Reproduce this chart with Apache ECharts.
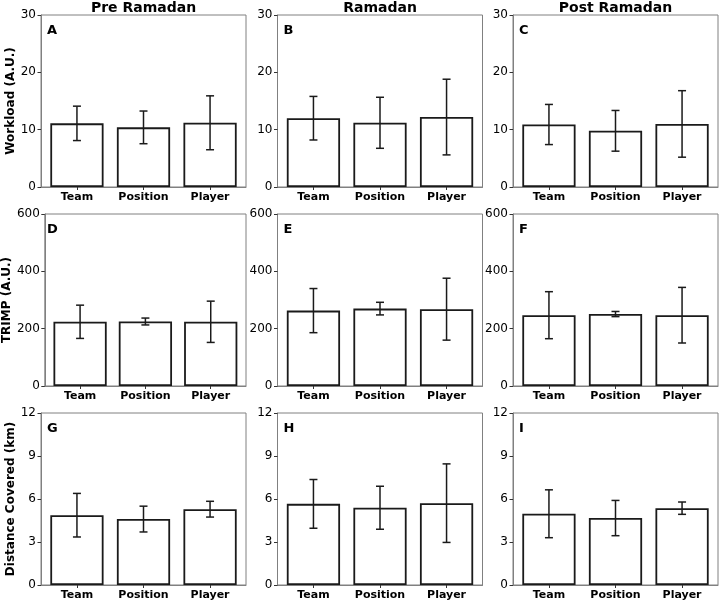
<!DOCTYPE html>
<html>
<head>
<meta charset="utf-8">
<script src="https://cdn.jsdelivr.net/npm/echarts@6/dist/echarts.min.js"></script>
<style>
  html, body { margin: 0; padding: 0; background: #fff; }
  #chart { width: 720px; height: 602px; }
</style>
</head>
<body>
<div id="chart"></div>
<script>
  // categories and phases
  var categories = ['Team', 'Position', 'Player'];
  var phases = ['Pre Ramadan', 'Ramadan', 'Post Ramadan'];
  var letters = ['A', 'B', 'C', 'D', 'E', 'F', 'G', 'H', 'I'];
  var rowNames = ['Workload (A.U.)', 'TRIMP (A.U.)', 'Distance Covered (km)'];

  // means / sd per phase (pre, ramadan, post) x category
  var workloadMean = [[11.1, 10.4, 11.2], [12.0, 11.2, 12.2], [10.9, 9.8, 11.0]];
  var workloadSD = [[3.0, 2.85, 4.7], [3.8, 4.45, 6.6], [3.5, 3.55, 5.8]];
  var trimpMean = [[224, 225, 224], [263, 270, 268], [247, 251, 247]];
  var trimpSD = [[58, 12, 72], [77, 22, 108], [82, 9, 97]];
  var distanceMean = [[4.87, 4.6, 5.29], [5.66, 5.39, 5.71], [4.97, 4.67, 5.36]];
  var distanceSD = [[1.52, 0.9, 0.55], [1.7, 1.5, 2.74], [1.67, 1.23, 0.43]];

  // y axis ranges per row
  var yMax = [30, 600, 12];
  var yStep = [10, 200, 3];

  var rows = [
    {mean: workloadMean, sd: workloadSD},
    {mean: trimpMean, sd: trimpSD},
    {mean: distanceMean, sd: distanceSD}
  ];

  // layout (px)
  var colLeft = [41, 277.5, 513];
  var rowTop = [15, 214, 413];
  var panelW = 205;
  var panelH = 172;
  // x range like matplotlib bars (width 0.8, 5% margin)
  var xMin = -0.54, xMax = 2.54;
  var barW = 0.8 / (xMax - xMin) * panelW;

  var font = 'DejaVu Sans';
  var grids = [], xAxes = [], yAxes = [], series = [], graphics = [];

  function errorBar(params, api) {
    var x = api.value(0);
    var top = api.coord([x, api.value(2)]);
    var bot = api.coord([x, api.value(1)]);
    var cap = 4;
    var st = {stroke: '#1a1a1a', lineWidth: 1.5};
    return {
      type: 'group',
      children: [
        {type: 'line', shape: {x1: top[0], y1: top[1], x2: bot[0], y2: bot[1]}, style: st},
        {type: 'line', shape: {x1: top[0] - cap, y1: top[1], x2: top[0] + cap, y2: top[1]}, style: st},
        {type: 'line', shape: {x1: bot[0] - cap, y1: bot[1], x2: bot[0] + cap, y2: bot[1]}, style: st}
      ]
    };
  }

  for (var r = 0; r < 3; r++) {
    for (var c = 0; c < 3; c++) {
      var k = r * 3 + c;
      grids.push({left: colLeft[c], top: rowTop[r], width: panelW, height: panelH,
        show: true, borderColor: '#808080', borderWidth: 1, backgroundColor: 'transparent'});
      xAxes.push({
        type: 'value', gridIndex: k, min: xMin, max: xMax,
        splitLine: {show: false},
        axisLine: {show: true, onZero: false, lineStyle: {color: '#808080', width: 1}},
        axisTick: {show: true, customValues: [0, 1, 2], length: 3, lineStyle: {color: '#333'}},
        axisLabel: {customValues: [0, 1, 2], formatter: function (v) { return categories[Math.round(v)]; },
          color: '#000', fontFamily: font, fontWeight: 'bold', fontSize: 11, margin: 5}
      });
      yAxes.push({
        type: 'value', gridIndex: k, min: 0, max: yMax[r], interval: yStep[r],
        splitLine: {show: false},
        axisLine: {show: true, onZero: false, lineStyle: {color: '#808080', width: 1}},
        axisTick: {show: true, length: 3.5, lineStyle: {color: '#333'}},
        axisLabel: {color: '#000', fontFamily: font, fontSize: 12, margin: 5},
        name: c === 0 ? rowNames[r] : '',
        nameLocation: 'middle', nameGap: 23, nameRotate: 90,
        nameTextStyle: {color: '#000', fontFamily: font, fontWeight: 'bold', fontSize: 12}
      });
      var m = rows[r].mean[c], s = rows[r].sd[c];
      series.push({
        type: 'bar', xAxisIndex: k, yAxisIndex: k,
        data: m.map(function (v, i) { return [i, v]; }),
        barWidth: barW,
        itemStyle: {color: '#fff', borderColor: '#1a1a1a', borderWidth: 1.8},
        silent: true, animation: false
      });
      series.push({
        type: 'custom', xAxisIndex: k, yAxisIndex: k,
        renderItem: errorBar,
        data: m.map(function (v, i) { return [i, v - s[i], v + s[i]]; }),
        z: 5, silent: true, animation: false
      });
      graphics.push({
        type: 'text', left: colLeft[c] + 6, top: rowTop[r] + 9,
        style: {text: letters[k], fill: '#000', font: 'bold 13px "DejaVu Sans"'}
      });
    }
  }
  for (var c2 = 0; c2 < 3; c2++) {
    graphics.push({
      type: 'text', x: colLeft[c2] + panelW / 2, y: 1,
      style: {text: phases[c2], fill: '#000', font: 'bold 14px "DejaVu Sans"', textAlign: 'center', textVerticalAlign: 'top'}
    });
  }

  var myChart = echarts.init(document.getElementById('chart'));
  myChart.setOption({
    animation: false,
    grid: grids,
    xAxis: xAxes,
    yAxis: yAxes,
    series: series,
    graphic: graphics
  });
</script>
</body>
</html>
